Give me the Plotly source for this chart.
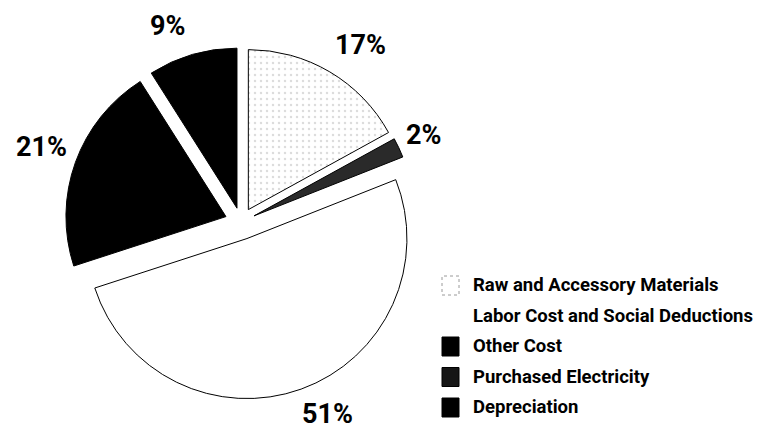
import plotly.graph_objects as go

# Data (pie order, clockwise from 12 o'clock)
slice_labels = ["Raw and Accessory Materials", "Purchased Electricity",
                "Labor Cost and Social Deductions", "Other Cost", "Depreciation"]
slice_values = [17, 2, 51, 21, 9]

# Legend order as printed
legend_labels = ["Raw and Accessory Materials", "Labor Cost and Social Deductions",
                 "Other Cost", "Purchased Electricity", "Depreciation"]

W, H = 762, 432
FONT = "Roboto, Liberation Sans, sans-serif"

def px(x):
    return x / W

def py(y):
    return 1 - y / H

fill = {
    "Raw and Accessory Materials": "#ffffff",
    "Purchased Electricity": "#2a2a2a",
    "Labor Cost and Social Deductions": "#ffffff",
    "Other Cost": "#000000",
    "Depreciation": "#000000",
}
pull = {
    "Raw and Accessory Materials": 0.09,
    "Purchased Electricity": 0.09,
    "Labor Cost and Social Deductions": 0.11,
    "Other Cost": 0.10,
    "Depreciation": 0.09,
}
pattern_shape = {
    "Raw and Accessory Materials": ".",
    "Purchased Electricity": "",
    "Labor Cost and Social Deductions": "",
    "Other Cost": "",
    "Depreciation": "",
}
pattern_fg = {
    "Raw and Accessory Materials": "#dcdcdc",
    "Purchased Electricity": "#000000",
    "Labor Cost and Social Deductions": "#000000",
    "Other Cost": "#000000",
    "Depreciation": "#000000",
}
# where each percentage label sits (pixel centre)
label_pos = {
    "Raw and Accessory Materials": (360, 45),
    "Purchased Electricity": (423, 135),
    "Labor Cost and Social Deductions": (327, 414),
    "Other Cost": (41, 147),
    "Depreciation": (167, 26),
}

cx, cy, r = 241, 222, 160
size = 2 * r * (1 + max(pull.values()))
dom_x = [px(cx - size / 2), px(cx + size / 2)]
dom_y = [py(cy + size / 2), py(cy - size / 2)]

fig = go.Figure(go.Pie(
    labels=slice_labels,
    values=slice_values,
    sort=False,
    direction="clockwise",
    rotation=0,
    pull=[pull[l] for l in slice_labels],
    marker=dict(
        colors=[fill[l] for l in slice_labels],
        line=dict(color="#000000", width=1),
        pattern=dict(shape=[pattern_shape[l] for l in slice_labels],
                     fgcolor=[pattern_fg[l] for l in slice_labels],
                     bgcolor=[fill[l] for l in slice_labels],
                     size=6, solidity=0.12),
    ),
    textinfo="none",
    domain=dict(x=dom_x, y=dom_y),
    showlegend=False,
    hoverinfo="label+value",
))

annos = []
for lab, val in zip(slice_labels, slice_values):
    x, y = label_pos[lab]
    annos.append(dict(x=px(x), y=py(y), xref="paper", yref="paper",
                      xanchor="center", yanchor="middle", showarrow=False,
                      text=f"{val}%",
                      font=dict(family=FONT, size=27, color="#000000", weight="bold")))

# Manual legend (order differs from slice order)
legend_box = {
    "Raw and Accessory Materials": dict(fill="#ffffff", line="#9a9a9a", dash="dot"),
    "Labor Cost and Social Deductions": dict(fill="#ffffff", line="rgba(0,0,0,0)", dash="solid"),
    "Other Cost": dict(fill="#000000", line="#000000", dash="solid"),
    "Purchased Electricity": dict(fill="#161616", line="#000000", dash="solid"),
    "Depreciation": dict(fill="#000000", line="#000000", dash="solid"),
}
row0, step = 285, 30.5
shapes = []
for i, lab in enumerate(legend_labels):
    yc = row0 + i * step
    b = legend_box[lab]
    shapes.append(dict(type="rect", xref="paper", yref="paper",
                       x0=px(442), x1=px(459), y0=py(yc + 10), y1=py(yc - 9),
                       fillcolor=b["fill"], line=dict(color=b["line"], width=1, dash=b["dash"])))
    annos.append(dict(x=px(471), y=py(yc), xref="paper", yref="paper",
                      xanchor="left", yanchor="middle", showarrow=False, text=lab,
                      font=dict(family=FONT, size=18.5, color="#000000", weight="bold")))

fig.update_layout(
    width=W, height=H,
    margin=dict(l=0, r=0, t=0, b=0, autoexpand=False),
    paper_bgcolor="#ffffff", plot_bgcolor="#ffffff",
    shapes=shapes, annotations=annos,
)
fig.write_html("out.html", config={"responsive": False, "displayModeBar": False},
               post_script="document.body.style.margin='0';document.body.style.overflow='hidden';")
